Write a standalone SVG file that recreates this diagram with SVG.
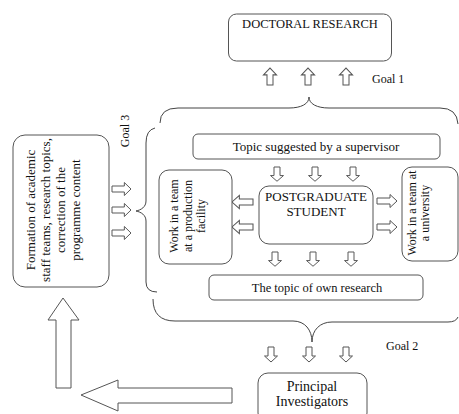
<svg xmlns="http://www.w3.org/2000/svg" width="459" height="414" viewBox="0 0 459 414">
<style>
.box{fill:#fff;stroke:#555;stroke-width:1}
.ln{fill:none;stroke:#444;stroke-width:1}
.ar{fill:#fff;stroke:#555;stroke-width:1}
text{font-family:"Liberation Serif","Times New Roman",serif;fill:#111}
.t13{font-size:13px}
.t12{font-size:12px}
.t14{font-size:14px}
</style>
<defs>
<path id="ah" d="M0,-3 H13 V-6.5 L20,0 L13,6.5 V3 H0 Z"/>
<path id="av" d="M-3,0 H3 V9 H6.5 L0,15 L-6.5,9 H-3 Z"/>
</defs>
<rect width="459" height="414" fill="#fff"/>

<g id="connectors">
<path class="ln" d="M160,123 Q160,108 178,108 H289 C301,108 309,104 309,97 C309,104 317,108 329,108 H440 Q457,108 458,124"/>
<path class="ln" d="M155,128 Q146,130 146,143 V201 C146,207 141,210 136,211 C141,212 146,215 146,221 V282 Q146,292 157,292"/>
<path class="ln" d="M153,299 Q153,321 175,321 H293 C305,321 312,330 312,342 C312,330 320,322 332,322 H448 Q456,322 458,317"/>
<g class="ar">
<use href="#av" transform="translate(270,85) scale(1,-1.13)"/>
<use href="#av" transform="translate(308,85) scale(1,-1.13)"/>
<use href="#av" transform="translate(346,85) scale(1,-1.13)"/>
<use href="#av" transform="translate(277,167) scale(1,0.95)"/>
<use href="#av" transform="translate(315,167) scale(1,0.95)"/>
<use href="#av" transform="translate(353,167) scale(1,0.95)"/>
<use href="#ah" transform="translate(253,202) scale(-1.05,1)"/>
<use href="#ah" transform="translate(253,227) scale(-1.05,1)"/>
<use href="#ah" transform="translate(377,201)"/>
<use href="#ah" transform="translate(377,227)"/>
<use href="#av" transform="translate(275,252) scale(1,0.95)"/>
<use href="#av" transform="translate(313,252) scale(1,0.95)"/>
<use href="#av" transform="translate(351,252) scale(1,0.95)"/>
<use href="#ah" transform="translate(112,189) scale(0.95,1)"/>
<use href="#ah" transform="translate(112,210) scale(0.95,1)"/>
<use href="#ah" transform="translate(112,233) scale(0.95,1)"/>
<use href="#av" transform="translate(271,347)"/>
<use href="#av" transform="translate(309,347)"/>
<use href="#av" transform="translate(346,347)"/>
<path d="M56,388 V320 H48 L63,298 L79,320 H71 V388 Z"/>
<path d="M232,388 H118 V380 L81,395 L118,411 V403 H232 Z"/>
</g>
</g>

<g id="doctoral">
<rect class="box" x="228.5" y="14" width="163" height="47" rx="8"/>
<text x="310" y="28" text-anchor="middle" style="font-size:12.5px">DOCTORAL RESEARCH</text>
</g>
<text id="goal1" class="t12" x="372" y="83">Goal 1</text>

<g id="topic-supervisor">
<rect class="box" x="193" y="134" width="247" height="25" rx="5"/>
<text class="t13" x="316" y="151" text-anchor="middle">Topic suggested by a supervisor</text>
</g>

<g id="student">
<rect class="box" x="259" y="186" width="114" height="58" rx="10"/>
<text class="t13" x="316" y="201" text-anchor="middle">POSTGRADUATE</text>
<text class="t13" x="316" y="216" text-anchor="middle">STUDENT</text>
</g>

<g id="production">
<rect class="box" x="159" y="170" width="73" height="94" rx="10"/>
<text class="t12" transform="translate(178,216) rotate(-90)" text-anchor="middle">Work in a team</text>
<text class="t12" transform="translate(191.5,216) rotate(-90)" text-anchor="middle">at a production</text>
<text class="t12" transform="translate(205,216) rotate(-90)" text-anchor="middle">facility</text>
</g>

<g id="university">
<rect class="box" x="402" y="167" width="56" height="94" rx="10"/>
<text class="t12" transform="translate(415.5,213) rotate(-90)" text-anchor="middle">Work in a team at</text>
<text class="t12" transform="translate(428.5,213) rotate(-90)" text-anchor="middle">a university</text>
</g>

<g id="topic-own">
<rect class="box" x="209" y="275" width="214" height="25" rx="5"/>
<text x="317" y="292" text-anchor="middle" style="font-size:12.5px">The topic of own research</text>
</g>

<g id="formation">
<rect class="box" x="13" y="135" width="96" height="152" rx="12"/>
<text class="t13" transform="translate(35,210) rotate(-90)" text-anchor="middle">Formation of academic</text>
<text class="t13" transform="translate(50,210) rotate(-90)" text-anchor="middle">staff teams, research topics,</text>
<text class="t13" transform="translate(65,210) rotate(-90)" text-anchor="middle">correction of the</text>
<text class="t13" transform="translate(80,210) rotate(-90)" text-anchor="middle">programme content</text>
</g>
<text id="goal3" class="t12" transform="translate(129,131) rotate(-90)" text-anchor="middle">Goal 3</text>

<text id="goal2" class="t12" x="386" y="350">Goal 2</text>

<g id="principal">
<rect class="box" x="258" y="373" width="109" height="50" rx="10"/>
<text class="t14" x="312" y="391" text-anchor="middle">Principal</text>
<text class="t14" x="312" y="406" text-anchor="middle">Investigators</text>
</g>
</svg>
